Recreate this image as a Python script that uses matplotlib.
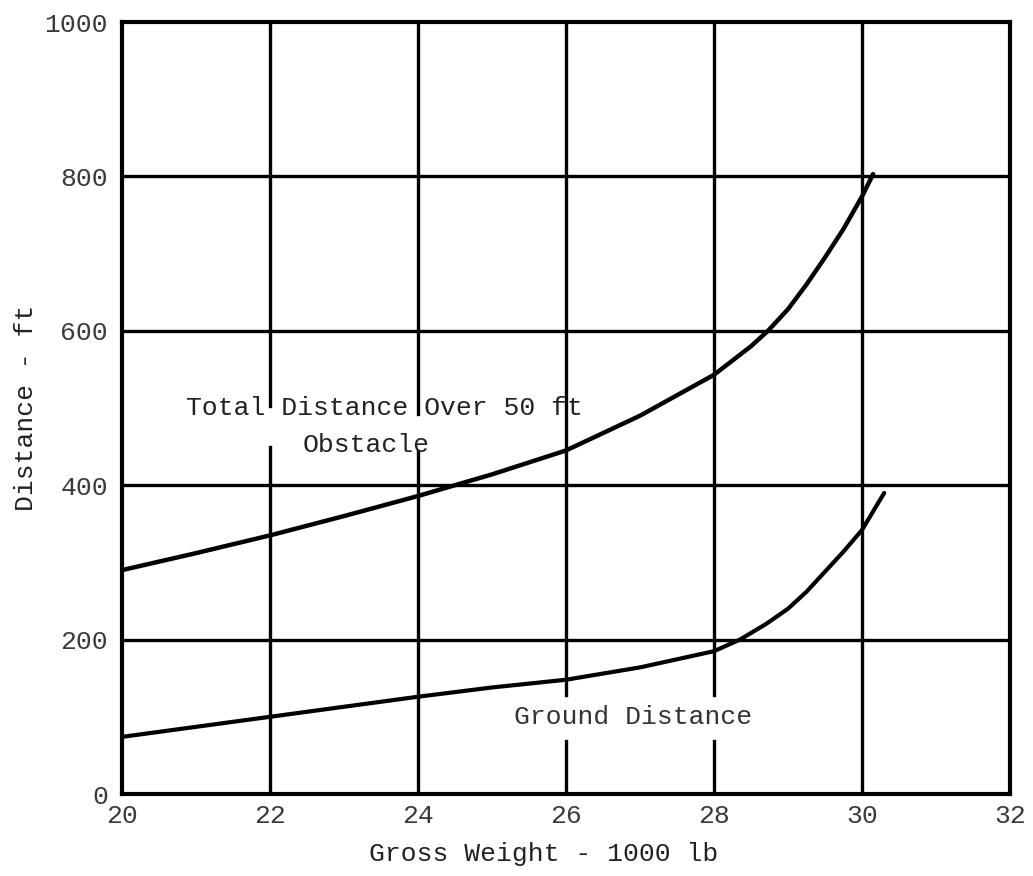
import matplotlib
matplotlib.use("Agg")
import matplotlib.pyplot as plt
import numpy as np

# Data
weight_total = [20, 21, 22, 23, 24, 24.5, 25, 26, 27, 28, 28.5, 28.73, 29, 29.25,
                29.5, 29.75, 30, 30.15]
dist_total = [290, 312, 335, 360, 386, 400, 414, 445, 490, 543, 580, 600, 628, 660,
              695, 732, 774, 803]

weight_ground = [20, 21, 22, 23, 24, 25, 26, 27, 28, 28.35, 28.7, 29, 29.25, 29.5,
                 29.75, 30, 30.15, 30.3]
dist_ground = [74, 87, 100, 113, 126, 138, 148, 164, 185, 200, 220, 240, 262, 288,
               314, 342, 366, 390]

x_ticks = [20, 22, 24, 26, 28, 30, 32]
x_tick_labels = ["20", "22", "24", "26", "28", "30", "32"]
y_ticks = [0, 200, 400, 600, 800, 1000]
y_tick_labels = ["0", "200", "400", "600", "800", "1000"]

mono = "Liberation Mono"

fig = plt.figure(figsize=(10.33, 8.76), dpi=100)
ax = fig.add_axes([122 / 1033, 1 - 794 / 876, (1010 - 122) / 1033, (794 - 22) / 876])
ax.set_xlim(20, 32)
ax.set_ylim(0, 1000)

# grid: horizontal lines
for yv in [200, 400, 600, 800]:
    ax.plot([20, 32], [yv, yv], color="black", lw=2.4, solid_capstyle="butt", zorder=1)

# vertical grid lines with gaps around the labels
gaps = {22: (449, 502), 24: (444, 492), 26: (69, 128), 28: (69, 128), 30: None}
for xv, gap in gaps.items():
    if gap is None:
        ax.plot([xv, xv], [0, 1000], color="black", lw=2.4, zorder=1)
    else:
        ax.plot([xv, xv], [0, gap[0]], color="black", lw=2.4, zorder=1)
        ax.plot([xv, xv], [gap[1], 1000], color="black", lw=2.4, zorder=1)

# curves
ax.plot(weight_total, dist_total, color="black", lw=3.2, zorder=3,
        solid_capstyle="round", solid_joinstyle="round")
ax.plot(weight_ground, dist_ground, color="black", lw=3.0, zorder=3,
        solid_capstyle="round", solid_joinstyle="round")

for s in ax.spines.values():
    s.set_linewidth(3.0)
    s.set_color("black")

ax.set_xticks(x_ticks)
ax.set_xticklabels(x_tick_labels)
ax.set_yticks(y_ticks)
ax.set_yticklabels(y_tick_labels)
ax.tick_params(length=0, labelsize=19, labelcolor="#3a3a3a")
ax.tick_params(axis="x", pad=7)
ax.tick_params(axis="y", pad=10)
for lab in ax.get_xticklabels() + ax.get_yticklabels():
    lab.set_family(mono)

ax.set_xlabel("Gross Weight - 1000 lb", fontsize=19, family=mono, color="#222222")
ax.xaxis.set_label_coords(0.475, -0.062)
ax.set_ylabel("Distance - ft", fontsize=19, family=mono, color="#222222")
ax.yaxis.set_label_coords(-0.095, 0.5)

ax.text(20.87, 500, "Total Distance Over 50 ft", fontsize=19, family=mono,
        color="#222222", ha="left", va="center", zorder=4)
ax.text(23.3, 452, "Obstacle", fontsize=19, family=mono,
        color="#222222", ha="center", va="center", zorder=4)
ax.text(26.9, 100, "Ground Distance", fontsize=19, family=mono,
        color="#333333", ha="center", va="center", zorder=4)

fig.savefig("out.png", dpi=100, facecolor="white")
